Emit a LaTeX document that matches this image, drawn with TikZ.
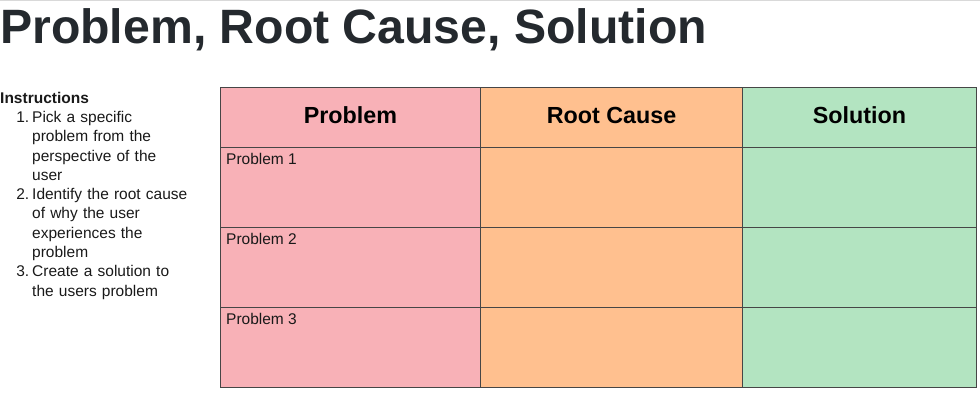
\documentclass[tikz,border=0pt]{standalone}
\usepackage{fontspec}
\setmainfont{Liberation Sans}
\definecolor{pinkc}{RGB}{248,177,183}
\definecolor{orangec}{RGB}{255,192,143}
\definecolor{greenc}{RGB}{179,228,193}
\definecolor{gridc}{RGB}{70,70,70}
\definecolor{titlec}{RGB}{36,41,46}
\definecolor{txtc}{RGB}{25,25,25}
\begin{document}
\begin{tikzpicture}[x=1pt,y=-1pt,
  cell/.style={draw=gridc,line width=1pt,minimum width=#1,inner sep=0pt,anchor=north west,minimum height=80pt},
  hdr/.style={font=\fontsize{23.3}{26}\selectfont\bfseries,text=black},
  plab/.style={font=\fontsize{15.5}{18}\selectfont,text=txtc,anchor=north west,inner sep=0pt},
  itemtxt/.style={anchor=base west,inner sep=0pt,text width=170pt,align=left,font=\fontsize{15.5}{19.3}\selectfont,text=txtc},
  itemnum/.style={anchor=base east,inner sep=0pt,font=\fontsize{15.5}{19.3}\selectfont,text=txtc}]
\useasboundingbox (0,0) rectangle (980,411);
\fill[gray!30] (0,0) rectangle (980,1);
\node[anchor=base west,inner sep=0pt,font=\fontsize{48.2}{52}\selectfont\bfseries,text=titlec] (title) at (0,44) {Problem, Root Cause, Solution};
\node[anchor=base west,inner sep=0pt,font=\fontsize{15.5}{19}\selectfont\bfseries,text=txtc] (instr) at (0,104) {Instructions};
\node[itemnum] (n1) at (29.5,122.5) {1.};
\node[itemtxt] (i1) at (32,122.5) {Pick a specific\\problem from the\\perspective of the\\user};
\node[itemnum] (n2) at (29.5,199.7) {2.};
\node[itemtxt] (i2) at (32,199.7) {Identify the root cause\\of why the user\\experiences the\\problem};
\node[itemnum] (n3) at (29.5,276.9) {3.};
\node[itemtxt] (i3) at (32,276.9) {Create a solution to\\the users problem};
% header
\node[cell=260pt,fill=pinkc,minimum height=60pt] (h1) at (220,87) {};
\node[cell=262pt,fill=orangec,minimum height=60pt] (h2) at (480,87) {};
\node[cell=234pt,fill=greenc,minimum height=60pt] (h3) at (742,87) {};
\node[hdr] at ([yshift=2pt]h1.center) {Problem};
\node[hdr] at ([yshift=2pt]h2.center) {Root Cause};
\node[hdr] at ([yshift=2pt]h3.center) {Solution};
% rows
\foreach \r/\y in {1/147,2/227,3/307}{
  \node[cell=260pt,fill=pinkc] (p\r) at (220,\y) {};
  \node[cell=262pt,fill=orangec] (c\r) at (480,\y) {};
  \node[cell=234pt,fill=greenc] (s\r) at (742,\y) {};
  \node[plab] at ([xshift=6pt,yshift=-6.5pt]p\r.north west) {Problem \r};
}
\end{tikzpicture}
\end{document}
